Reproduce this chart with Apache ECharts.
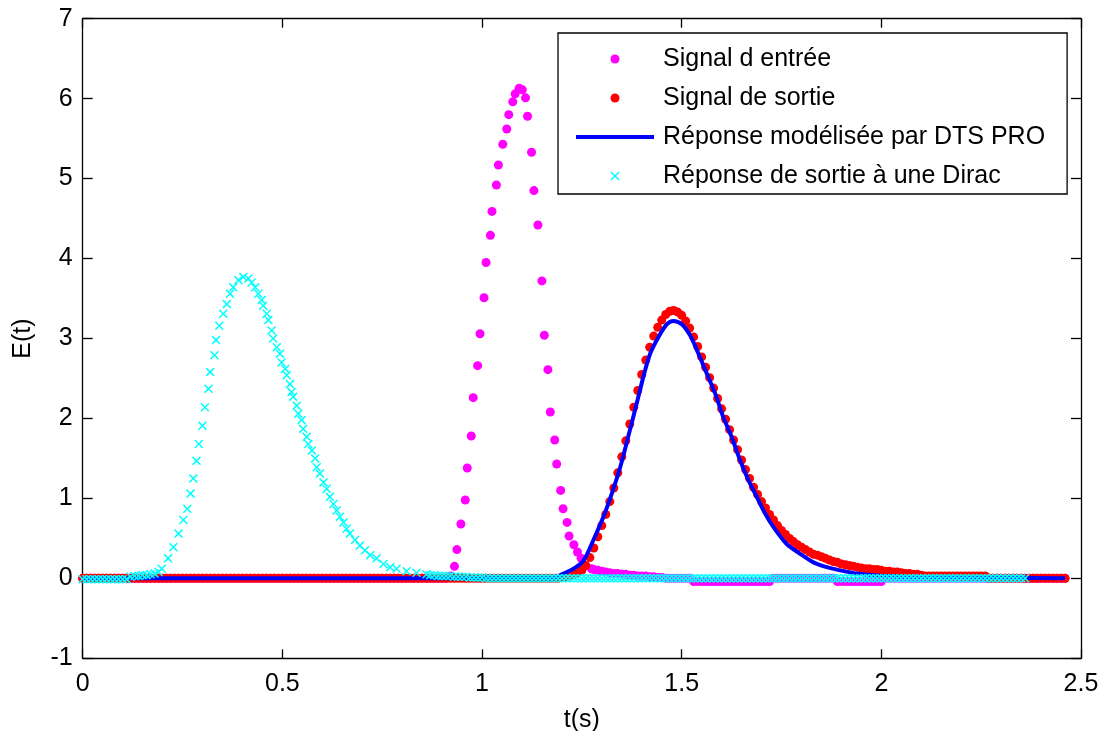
<!DOCTYPE html>
<html>
<head>
<meta charset="utf-8">
<script src="https://cdn.jsdelivr.net/npm/echarts@6/dist/echarts.min.js"></script>
<style>
html,body{margin:0;padding:0;background:#fff;}
#chart{width:1101px;height:731px;}
</style>
</head>
<body>
<div id="chart"></div>
<script>
// ---------- labels ----------
const legendNames = ['Signal d entrée', 'Signal de sortie', 'Réponse modélisée par DTS PRO', 'Réponse de sortie à une Dirac'];
const xTickLabels = ['0', '0.5', '1', '1.5', '2', '2.5'];
const yTickLabels = ['-1', '0', '1', '2', '3', '4', '5', '6', '7'];
const xAxisName = 't(s)';
const yAxisName = 'E(t)';

// sampling interval of the regularly sampled stretches (s)
const GRID_STEP = 0.01;

// ---------- Signal d entrée (magenta dots) ----------
const entreeBeforeStart = 0.00; // t = 0.00 .. 0.91
const entreeBeforeE = [
  0,0,0,0,0,0,0,0,0,0, 0,0,0,0,0,0,0,0,0,0, 0,0,0,0,0,0,0,0,0,0,
  0,0,0,0,0,0,0,0,0,0, 0,0,0,0,0,0,0,0,0,0, 0,0,0,0,0,0,0,0,0,0,
  0,0,0,0,0,0,0,0,0,0, 0,0,0,0,0,0,0,0,0,0, 0,0,0,0,0,0,0,0,0,0,
  0,0
];
const entreePulseT = [0.921,0.931,0.937,0.947,0.958,0.963,0.973,0.978,0.989,0.995,1.005,1.010,1.021,1.025,1.036,1.041,1.052,1.062,1.067,1.077,1.083,1.093,1.101,1.109,1.114,1.124,1.130,1.140,1.150,1.156,1.165,1.171,1.182,1.187,1.197,1.203,1.213,1.218,1.230,1.239,1.248,1.259,1.274,1.28,1.29,1.30,1.31,1.32,1.33,1.34,1.35,1.36,1.37,1.38,1.39,1.40,1.41,1.42,1.43,1.44,1.45];
const entreePulseE = [0.03,0.15,0.36,0.68,0.98,1.38,1.78,2.26,2.66,3.06,3.51,3.95,4.29,4.59,4.92,5.17,5.43,5.62,5.80,5.96,6.06,6.13,6.11,6.01,5.78,5.33,4.85,4.42,3.72,3.04,2.61,2.08,1.73,1.43,1.10,0.87,0.70,0.53,0.42,0.33,0.25,0.16,0.12,0.11,0.10,0.09,0.08,0.07,0.06,0.06,0.05,0.05,0.04,0.04,0.03,0.03,0.03,0.02,0.02,0.01,0.01];
const entreeAfterStart = 1.46; // t = 1.46 .. 2.46
const entreeAfterE = [
  0,0,0,0,0,0,0,
  -0.04,-0.04,-0.04,-0.04,-0.04,-0.04,-0.04,-0.04,-0.04,-0.04,-0.04,-0.04,-0.04,-0.04,-0.04,-0.04,-0.04,-0.04,-0.04,-0.04,
  0,0,0,0,0,0,0,0,0,0,0,0,0,0,0,0,
  -0.04,-0.04,-0.04,-0.04,-0.04,-0.04,-0.04,-0.04,-0.04,-0.04,-0.04,-0.04,
  0,0,0,0,0,0,0,0,0,0, 0,0,0,0,0,0,0,0,0,0, 0,0,0,0,0,0,0,0,0,0, 0,0,0,0,0,0,0,0,0,0, 0,0,0,0,0,0
];

// ---------- Signal de sortie (red dots) ----------
const sortieBeforeStart = 0.00; // t = 0.00 .. 1.19
const sortieBeforeE = [
  0,0,0,0,0,0,0,0,0,0, 0,0,0,0,0,0,0,0,0,0, 0,0,0,0,0,0,0,0,0,0, 0,0,0,0,0,0,0,0,0,0,
  0,0,0,0,0,0,0,0,0,0, 0,0,0,0,0,0,0,0,0,0, 0,0,0,0,0,0,0,0,0,0, 0,0,0,0,0,0,0,0,0,0,
  0,0,0,0,0,0,0,0,0,0, 0,0,0,0,0,0,0,0,0,0, 0,0,0,0,0,0,0,0,0,0, 0,0,0,0,0,0,0,0,0,0
];
const sortiePulseStart = 1.20; // t = 1.20 .. 2.46
const sortiePulseE = [
  0.01,0.02,0.03,0.05,0.07,0.10,0.16,0.26,0.38,0.52,
  0.66,0.80,0.96,1.13,1.32,1.52,1.72,1.93,2.14,2.35,
  2.55,2.73,2.89,3.03,3.14,3.23,3.30,3.34,3.35,3.33,
  3.29,3.22,3.13,3.02,2.90,2.77,2.64,2.51,2.38,2.25,
  2.12,1.99,1.86,1.73,1.61,1.48,1.36,1.25,1.14,1.05,
  0.96,0.88,0.80,0.73,0.66,0.60,0.55,0.50,0.46,0.42,
  0.39,0.36,0.33,0.30,0.29,0.27,0.25,0.23,0.21,0.20,
  0.18,0.17,0.16,0.15,0.14,0.13,0.12,0.12,0.11,0.11,
  0.10,0.09,0.09,0.08,0.08,0.07,0.06,0.06,0.05,0.05,
  0.04,
  0.03,0.03,0.03,0.03,0.03,0.03,0.03,0.03,0.03,0.03,0.03,0.03,0.03,0.03,0.03,0.03,
  0,0,0,0,0,0,0,0,0,0, 0,0,0,0,0,0,0,0,0,0
];

// ---------- Réponse modélisée par DTS PRO (blue line) ----------
const modeleT = [0,1.18,1.19,1.20,1.229,1.254,1.279,1.304,1.325,1.346,1.366,1.387,1.404,1.421,1.442,1.463,1.479,1.50,1.521,1.542,1.563,1.584,1.604,1.625,1.646,1.667,1.688,1.709,1.73,1.763,1.796,1.83,1.863,1.897,1.938,1.98,2.064,2.46];
const modeleE = [0,0,0.02,0.05,0.12,0.22,0.48,0.77,1.06,1.39,1.77,2.18,2.52,2.81,3.02,3.18,3.22,3.18,3.04,2.81,2.56,2.31,2.02,1.77,1.48,1.23,1.02,0.81,0.64,0.43,0.31,0.20,0.14,0.10,0.06,0.04,0.02,0];

// ---------- Réponse de sortie à une Dirac (cyan crosses) ----------
const diracBeforeStart = 0.00; // t = 0.00 .. 0.19
const diracBeforeE = [-0.01,-0.01,-0.01,-0.01,-0.01,-0.01,-0.01,-0.01,-0.01,-0.01,-0.01,-0.01,0.02,0.03,0.03,0.04,0.04,0.05,0.06,0.08];
const diracPulseT = [0.198,0.214,0.227,0.240,0.252,0.262,0.270,0.277,0.285,0.291,0.300,0.306,0.315,0.319,0.330,0.334,0.342,0.352,0.361,0.369,0.377,0.390,0.402,0.415,
  0.423,0.432,0.440,0.448,0.452,0.461,0.465,0.473,0.477,0.486,0.494,0.498,0.507,0.511,0.519,0.523,0.527,0.536,0.540,0.548,0.552,0.561,0.565,0.574,0.582,0.586,0.594,0.603,0.611,0.619,0.628,0.636,0.644,0.653,0.661,0.669,0.682,0.694,0.707,0.720,0.736,0.753,0.770,0.786,0.811,0.836,0.861];
const diracPulseE = [0.12,0.25,0.39,0.56,0.73,0.87,1.06,1.25,1.47,1.68,1.91,2.14,2.37,2.58,2.79,2.98,3.16,3.31,3.43,3.56,3.64,3.73,3.77,3.75,
  3.70,3.64,3.56,3.48,3.41,3.31,3.23,3.10,3.00,2.89,2.81,2.70,2.62,2.54,2.43,2.33,2.27,2.16,2.06,1.98,1.87,1.77,1.68,1.60,1.50,1.39,1.31,1.20,1.12,1.02,0.93,0.85,0.77,0.70,0.62,0.56,0.48,0.41,0.35,0.29,0.25,0.18,0.14,0.12,0.09,0.07,0.05];
const diracAfterStart = 0.87; // t = 0.87 .. 2.46
const diracAfterE = [
  0.04,0.04,0.03,0.03,0.03,0.03,0.02,0.02,0.02,
  0.02,0.01,0.01,0.01,0.01,
  0,0,0,0,0,0,0,0,0,0, 0,0,0,0,0,0,0,0,0,0, 0,0,0,0,0,0,0,0,0,0, 0,0,0,0,0,0,0,0,0,0,
  0,0,0,0,0,0,0,0,0,0, 0,0,0,0,0,0,0,0,0,0, 0,0,0,0,0,0,0,0,0,0, 0,0,0,0,0,0,0,0,0,0,
  0,0,0,0,0,0,0,0,0,0, 0,0,0,0,0,0,0,0,0,0, 0,0,0,0,0,0,0,0,0,0, 0,0,0,0,0,0,0,0,0,0,
  0,0,0,0,0,0,0,0,0,0, 0,0,0,0,0,0
];

// ---------- helpers: pair times with values ----------
function gridPoints(t0, values) {
  return values.map((v, i) => [Math.round((t0 + i * GRID_STEP) * 10000) / 10000, v]);
}
function pairPoints(ts, es) {
  return ts.map((t, i) => [t, es[i]]);
}

const entreeData = gridPoints(entreeBeforeStart, entreeBeforeE)
  .concat(pairPoints(entreePulseT, entreePulseE))
  .concat(gridPoints(entreeAfterStart, entreeAfterE));
const sortieData = gridPoints(sortieBeforeStart, sortieBeforeE)
  .concat(gridPoints(sortiePulseStart, sortiePulseE));
const modeleData = pairPoints(modeleT, modeleE);
const diracData = gridPoints(diracBeforeStart, diracBeforeE)
  .concat(pairPoints(diracPulseT, diracPulseE))
  .concat(gridPoints(diracAfterStart, diracAfterE));

// ---------- chart ----------
const FONT = "'Liberation Sans', Arial, Helvetica, sans-serif";
const crossPath = 'path://M0,1.2L1.2,0L5,3.8L8.8,0L10,1.2L6.2,5L10,8.8L8.8,10L5,6.2L1.2,10L0,8.8L3.8,5Z';
const lineIconPath = 'path://M0,0L78,0L78,4L0,4Z';
const axisLine = { show: true, onZero: false, lineStyle: { color: '#000', width: 1.3 } };
const tickStyle = { color: '#000', width: 1.3 };

const chart = echarts.init(document.getElementById('chart'), null, { renderer: 'canvas' });
chart.setOption({
  animation: false,
  backgroundColor: '#fff',
  textStyle: { fontFamily: FONT },
  grid: { left: 82.7, right: 20, top: 18.7, bottom: 72.7, containLabel: false, outerBoundsMode: 'none' },
  legend: {
    orient: 'vertical',
    left: 558, top: 33,
    padding: [12, 22, 4, 18],
    itemWidth: 78, itemHeight: 9, itemGap: 11,
    borderColor: '#000', borderWidth: 1.3,
    backgroundColor: '#fff',
    selectedMode: false,
    symbolKeepAspect: true,
    textStyle: { fontFamily: FONT, fontSize: 25, color: '#000', lineHeight: 28, padding: [0, 0, 0, 4] },
    data: [
      { name: legendNames[0] },
      { name: legendNames[1] },
      { name: legendNames[2], icon: lineIconPath, itemStyle: { color: '#0000ff' } },
      { name: legendNames[3] }
    ]
  },
  xAxis: [
    {
      type: 'value', position: 'bottom', min: 0, max: 2.5, interval: 0.5,
      axisLine: axisLine,
      axisTick: { show: true, inside: true, length: 9, lineStyle: tickStyle },
      axisLabel: { show: true, margin: 13, fontSize: 25, color: '#000', fontFamily: FONT,
        formatter: v => xTickLabels[Math.round(v / 0.5)] },
      splitLine: { show: false },
      name: xAxisName, nameLocation: 'middle', nameGap: 49,
      nameTextStyle: { fontSize: 25, color: '#000', fontFamily: FONT }
    },
    {
      type: 'value', position: 'top', min: 0, max: 2.5, interval: 0.5,
      axisLine: axisLine,
      axisTick: { show: true, inside: true, length: 9, lineStyle: tickStyle },
      axisLabel: { show: false }, splitLine: { show: false }
    }
  ],
  yAxis: [
    {
      type: 'value', position: 'left', min: -1, max: 7, interval: 1,
      axisLine: axisLine,
      axisTick: { show: true, inside: true, length: 10, lineStyle: tickStyle },
      axisLabel: { show: true, margin: 10, fontSize: 25, color: '#000', fontFamily: FONT,
        formatter: v => yTickLabels[Math.round(v + 1)] },
      splitLine: { show: false },
      name: yAxisName, nameLocation: 'middle', nameGap: 47, nameRotate: 90,
      nameTextStyle: { fontSize: 25, color: '#000', fontFamily: FONT }
    },
    {
      type: 'value', position: 'right', min: -1, max: 7, interval: 1,
      axisLine: axisLine,
      axisTick: { show: true, inside: true, length: 10, lineStyle: tickStyle },
      axisLabel: { show: false }, splitLine: { show: false }
    }
  ],
  series: [
    {
      name: legendNames[0], type: 'scatter', xAxisIndex: 0, yAxisIndex: 0,
      symbol: 'circle', symbolSize: 9,
      itemStyle: { color: '#ff00ff', opacity: 1 },
      data: entreeData, z: 2
    },
    {
      name: legendNames[1], type: 'scatter', xAxisIndex: 0, yAxisIndex: 0,
      symbol: 'circle', symbolSize: 9,
      itemStyle: { color: '#ff0000', opacity: 1 },
      data: sortieData, z: 3
    },
    {
      name: legendNames[2], type: 'line', xAxisIndex: 0, yAxisIndex: 0,
      symbol: 'none', showSymbol: false, smooth: 0.3,
      lineStyle: { color: '#0000ff', width: 4 },
      itemStyle: { color: '#0000ff' },
      data: modeleData, z: 4
    },
    {
      name: legendNames[3], type: 'scatter', xAxisIndex: 0, yAxisIndex: 0,
      symbol: crossPath, symbolSize: 9, symbolKeepAspect: true,
      itemStyle: { color: '#00ffff', opacity: 1 },
      data: diracData, z: 5
    }
  ]
});
</script>
</body>
</html>
